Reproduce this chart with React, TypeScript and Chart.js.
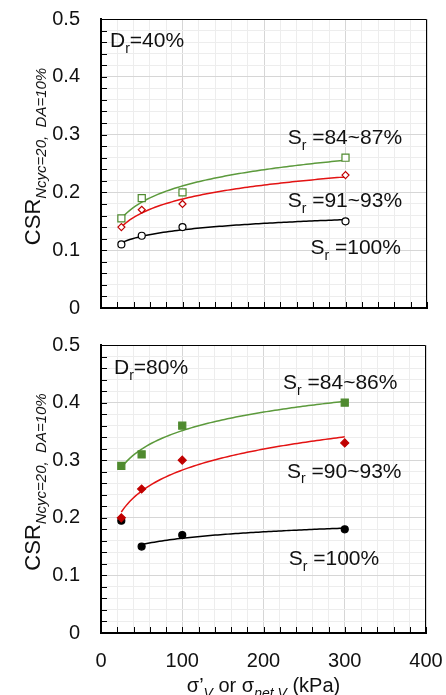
import React, { useEffect, useRef } from 'react';
import { Chart, registerables } from 'chart.js';

Chart.register(...registerables);

// ---------------- data ----------------
const pressures = [25, 50, 100, 300]; // σ'v or σnet,v (kPa)

// Dr = 40 %
const dr40_sr84_87 = [0.155, 0.19, 0.2, 0.26];
const dr40_sr91_93 = [0.14, 0.17, 0.18, 0.23];
const dr40_sr100 = [0.11, 0.125, 0.14, 0.15];

// Dr = 80 %
const dr80_sr84_86 = [0.29, 0.31, 0.36, 0.4];
const dr80_sr90_93 = [0.2, 0.25, 0.3, 0.33];
const dr80_sr100 = [0.195, 0.15, 0.17, 0.18];
const dr80_sr100_trendFrom = 1; // trend line starts at the 50 kPa point

const xMin = 0;
const xMax = 400;
const xStep = 20;
const yMin = 0;
const yMax = 0.5;
const yStep = 0.02;

const FONT = '"Liberation Sans", Arial, Helvetica, sans-serif';

const GREEN_M = '#4f8a2f';
const GREEN_L = '#5c9a3c';
const RED_M = '#c00000';
const RED_L = '#e31313';
const BLACK = '#000000';

type Seg = { t: string; sub?: boolean; it?: boolean };

const sub = (t: string, it = false): Seg => ({ t, sub: true, it });
const txt = (t: string, it = false): Seg => ({ t, it });

// annotation texts, anchored at (x kPa, y CSR) = left edge / cap-centre
const topNotes = [
  { x: 11, y: 0.464, segs: [txt('D'), sub('r'), txt('=40%')] },
  { x: 229, y: 0.296, segs: [txt('S'), sub('r'), txt(' =84~87%')] },
  { x: 229, y: 0.187, segs: [txt('S'), sub('r'), txt(' =91~93%')] },
  { x: 257, y: 0.106, segs: [txt('S'), sub('r'), txt(' =100%')] },
];
const bottomNotes = [
  { x: 16, y: 0.462, segs: [txt('D'), sub('r'), txt('=80%')] },
  { x: 224, y: 0.436, segs: [txt('S'), sub('r'), txt(' =84~86%')] },
  { x: 229, y: 0.283, segs: [txt('S'), sub('r'), txt(' =90~93%')] },
  { x: 231, y: 0.131, segs: [txt('S'), sub('r'), txt(' =100%')] },
];

const yTitle: Seg[] = [txt('CSR'), sub('Ncyc=20,  DA=10%', true)];
const xTitle: Seg[] = [txt('σ’'), sub('V', true), txt(' or σ'), sub('net,V', true), txt(' (kPa)')];

// ---------------- helpers ----------------
function logTrend(xs: number[], ys: number[]) {
  const lx = xs.map((v) => Math.log(v));
  const n = xs.length;
  const mx = lx.reduce((a, b) => a + b, 0) / n;
  const my = ys.reduce((a, b) => a + b, 0) / n;
  let sxx = 0;
  let sxy = 0;
  for (let i = 0; i < n; i++) {
    sxx += (lx[i] - mx) ** 2;
    sxy += (lx[i] - mx) * (ys[i] - my);
  }
  const a = sxy / sxx;
  const b = my - a * mx;
  const x0 = Math.min(...xs);
  const x1 = Math.max(...xs);
  const pts: { x: number; y: number }[] = [];
  const N = 80;
  for (let i = 0; i <= N; i++) {
    const x = x0 + ((x1 - x0) * i) / N;
    pts.push({ x, y: a * Math.log(x) + b });
  }
  return pts;
}

const pts = (xs: number[], ys: number[]) => xs.map((x, i) => ({ x, y: ys[i] }));

function drawRich(ctx: CanvasRenderingContext2D, segs: Seg[], x: number, y: number, size: number, align: 'left' | 'center') {
  const subSize = Math.round(size * 0.68);
  const f = (s: Seg) => `${s.it ? 'italic ' : ''}${s.sub ? subSize : size}px ${FONT}`;
  let total = 0;
  for (const s of segs) {
    ctx.font = f(s);
    total += ctx.measureText(s.t).width;
  }
  let cx = align === 'center' ? x - total / 2 : x;
  ctx.textAlign = 'left';
  ctx.textBaseline = 'alphabetic';
  for (const s of segs) {
    ctx.font = f(s);
    ctx.fillText(s.t, cx, y + (s.sub ? size * 0.28 : 0));
    cx += ctx.measureText(s.t).width;
  }
}

const isMajorX = (v: number) => Math.abs(v % 100) < 1e-6;
const isMajorY = (v: number) => Math.abs(v * 10 - Math.round(v * 10)) < 1e-6;

function makeDeco(notes: typeof topNotes, showXTitle: boolean) {
  return {
    id: 'panelDeco',
    afterDraw(chart: any) {
      const { ctx, chartArea: a } = chart;
      const x = chart.scales.x;
      const y = chart.scales.y;
      ctx.save();
      // frame (top & right)
      ctx.strokeStyle = '#000';
      ctx.lineWidth = 1;
      ctx.beginPath();
      ctx.moveTo(a.left, a.top + 0.5);
      ctx.lineTo(a.right - 0.5, a.top + 0.5);
      ctx.lineTo(a.right - 0.5, a.bottom);
      ctx.stroke();
      // inward ticks
      ctx.beginPath();
      for (const t of x.ticks) {
        const px = Math.round(x.getPixelForValue(t.value)) + 0.5;
        ctx.moveTo(px, a.bottom);
        ctx.lineTo(px, a.bottom - 6);
      }
      for (const t of y.ticks) {
        const py = Math.round(y.getPixelForValue(t.value)) + 0.5;
        ctx.moveTo(a.left, py);
        ctx.lineTo(a.left + 6, py);
      }
      ctx.stroke();
      // notes
      ctx.fillStyle = '#111';
      for (const n of notes) {
        const size = 21;
        drawRich(ctx, n.segs, x.getPixelForValue(n.x), y.getPixelForValue(n.y) + size * 0.36, size, 'left');
      }
      // y title
      ctx.save();
      ctx.translate(40, (a.top + a.bottom) / 2 - 7);
      ctx.rotate(-Math.PI / 2);
      drawRich(ctx, yTitle, 0, 0, 22, 'center');
      ctx.restore();
      // x title
      if (showXTitle) {
        drawRich(ctx, xTitle, (a.left + a.right) / 2, chart.height - 3, 20, 'center');
      }
      ctx.restore();
    },
  };
}

function buildConfig(
  series: { data: number[]; from: number; marker: string; mColor: string; lColor: string; filled: boolean; r: number }[],
  notes: typeof topNotes,
  bottom: boolean
): any {
  const datasets: any[] = [];
  for (const s of series) {
    datasets.push({
      data: logTrend(pressures.slice(s.from), s.data.slice(s.from)),
      showLine: true,
      borderColor: s.lColor,
      borderWidth: 1.5,
      pointRadius: 0,
      tension: 0,
      order: 2,
    });
    datasets.push({
      data: pts(pressures, s.data),
      showLine: false,
      pointStyle: s.marker,
      pointRadius: s.r,
      pointBorderWidth: 1.2,
      pointBorderColor: s.mColor,
      pointBackgroundColor: s.filled ? s.mColor : '#ffffff',
      order: 1,
    });
  }
  return {
    type: 'scatter',
    data: { datasets },
    options: {
      responsive: false,
      animation: false,
      events: [],
      layout: { padding: bottom ? { top: 15, right: 20, left: 0, bottom: 0 } : { top: 19, right: 19, left: 0, bottom: 0 } },
      plugins: { legend: { display: false }, tooltip: { enabled: false } },
      scales: {
        x: {
          type: 'linear',
          min: xMin,
          max: xMax,
          afterFit: (s: any) => {
            s.height = bottom ? 62 : 22;
          },
          ticks: {
            display: bottom,
            stepSize: xStep,
            autoSkip: false,
            maxRotation: 0,
            padding: 0,
            color: '#111',
            font: { size: 20, family: FONT },
            callback: (v: number) => (isMajorX(v) ? String(v) : ''),
          },
          grid: {
            drawTicks: bottom,
            tickLength: 16,
            tickColor: 'rgba(0,0,0,0)',
            color: (c: any) => (c.tick && isMajorX(c.tick.value) ? '#d6d6d6' : '#ededed'),
            lineWidth: 1,
          },
          border: { display: true, color: '#000', width: 2 },
        },
        y: {
          type: 'linear',
          min: yMin,
          max: yMax,
          afterFit: (s: any) => {
            s.width = 101;
          },
          ticks: {
            stepSize: yStep,
            autoSkip: false,
            padding: 0,
            color: '#111',
            font: { size: 20, family: FONT, lineHeight: 0.05 },
            callback: (v: number) => (isMajorY(v) ? (v === 0 ? '0' : v.toFixed(1)) : ''),
          },
          grid: {
            drawTicks: true,
            tickLength: 21,
            tickColor: 'rgba(0,0,0,0)',
            color: (c: any) => (c.tick && isMajorY(c.tick.value) ? '#d6d6d6' : '#ededed'),
            lineWidth: 1,
          },
          border: { display: true, color: '#000', width: 2 },
        },
      },
    },
    plugins: [makeDeco(notes, bottom)],
  };
}

function Panel({ which }: { which: 'top' | 'bottom' }) {
  const ref = useRef<HTMLCanvasElement | null>(null);
  useEffect(() => {
    if (!ref.current) return;
    const cfg =
      which === 'top'
        ? buildConfig(
            [
              { data: dr40_sr84_87, from: 0, marker: 'rect', mColor: GREEN_M, lColor: GREEN_L, filled: false, r: 5 },
              { data: dr40_sr91_93, from: 0, marker: 'rectRot', mColor: RED_M, lColor: RED_L, filled: false, r: 3.5 },
              { data: dr40_sr100, from: 0, marker: 'circle', mColor: BLACK, lColor: BLACK, filled: false, r: 3.5 },
            ],
            topNotes,
            false
          )
        : buildConfig(
            [
              { data: dr80_sr84_86, from: 0, marker: 'rect', mColor: GREEN_M, lColor: GREEN_L, filled: true, r: 5 },
              { data: dr80_sr90_93, from: 0, marker: 'rectRot', mColor: RED_M, lColor: RED_L, filled: true, r: 4 },
              { data: dr80_sr100, from: dr80_sr100_trendFrom, marker: 'circle', mColor: BLACK, lColor: BLACK, filled: true, r: 3.5 },
            ],
            bottomNotes,
            true
          );
    const chart = new Chart(ref.current, cfg);
    return () => chart.destroy();
  }, [which]);
  return (
    <canvas
      ref={ref}
      width={446}
      height={which === 'top' ? 330 : 365}
      style={{ display: 'block', width: 446, height: which === 'top' ? 330 : 365 }}
    />
  );
}

export default function App() {
  return (
    <div style={{ position: 'absolute', left: 0, top: 0, width: 446, height: 695, background: '#fff', overflow: 'hidden' }}>
      <Panel which="top" />
      <Panel which="bottom" />
    </div>
  );
}
